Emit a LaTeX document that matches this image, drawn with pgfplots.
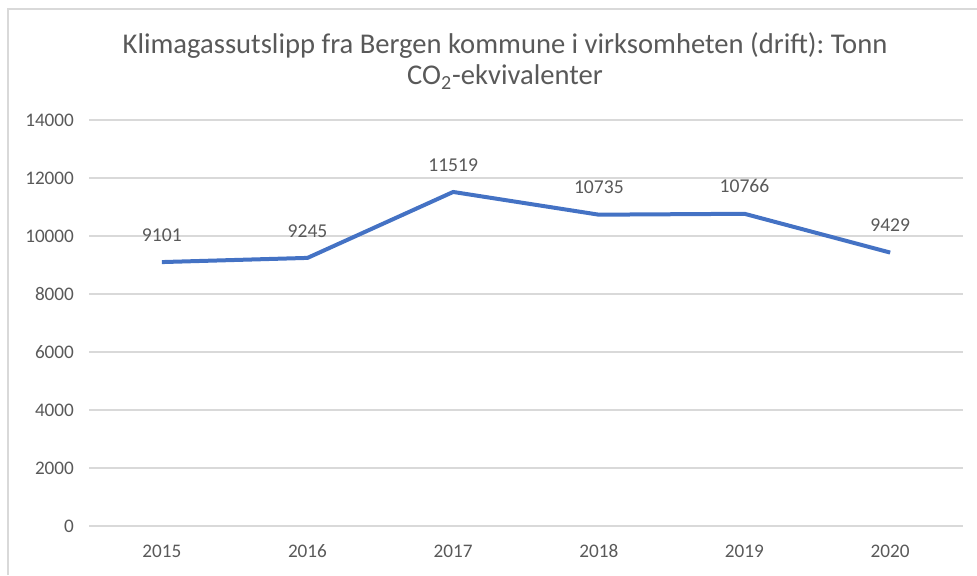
\documentclass[border=0pt]{standalone}
\usepackage{fontspec}
\setmainfont{Carlito}
\usepackage{pgfplots}
\pgfplotsset{compat=1.18}
\definecolor{linblue}{HTML}{4472C4}
\definecolor{txtgray}{HTML}{595959}
\definecolor{gridgray}{HTML}{D9D9D9}
\frenchspacing

\begin{document}
\begin{tikzpicture}[x=0.5pt,y=0.5pt]
  % canvas 977 x 575 "pixels"
  \useasboundingbox (0,0) rectangle (977,575);
  \draw[gridgray, line width=0.6pt] (8,0) -- (8,566) -- (977,566);

  \node[text=txtgray, font=\fontsize{14.3}{17}\selectfont] at (505,530)
    {Klimagassutslipp fra Bergen kommune i virksomheten (drift): Tonn};
  \node[text=txtgray, font=\fontsize{14.3}{17}\selectfont] at (505,498)
    {CO\textsubscript{2}-ekvivalenter};

  \begin{axis}[
    at={(44.5pt,24.5pt)}, anchor=south west,
    scale only axis, width=437pt, height=203pt,
    xmin=2014.5, xmax=2020.5, ymin=0, ymax=14000,
    xtick={2015,...,2020}, ytick={0,2000,...,14000},
    scaled y ticks=false,
    axis line style={draw=none},
    major tick length=0pt,
    ymajorgrids, grid style={gridgray, line width=0.6pt},
    ticklabel style={text=txtgray, font=\fontsize{9.6}{11}\selectfont},
    /pgf/number format/assume math mode=true,
    /pgf/number format/.cd, fixed, 1000 sep={}, /pgfplots/.cd,
    yticklabel style={xshift=-4pt},
    xticklabel style={yshift=-5pt, text depth=0pt, text height=7pt},
    clip=false,
    nodes near coords,
    every node near coord/.append style={text=txtgray,
      font=\fontsize{9.8}{11}\selectfont, yshift=6pt},
  ]
    \addplot[linblue, line width=2pt, line join=round] coordinates {
      (2015,9101) (2016,9245) (2017,11519) (2018,10735) (2019,10766) (2020,9429)
    };
  \end{axis}
\end{tikzpicture}
\end{document}
